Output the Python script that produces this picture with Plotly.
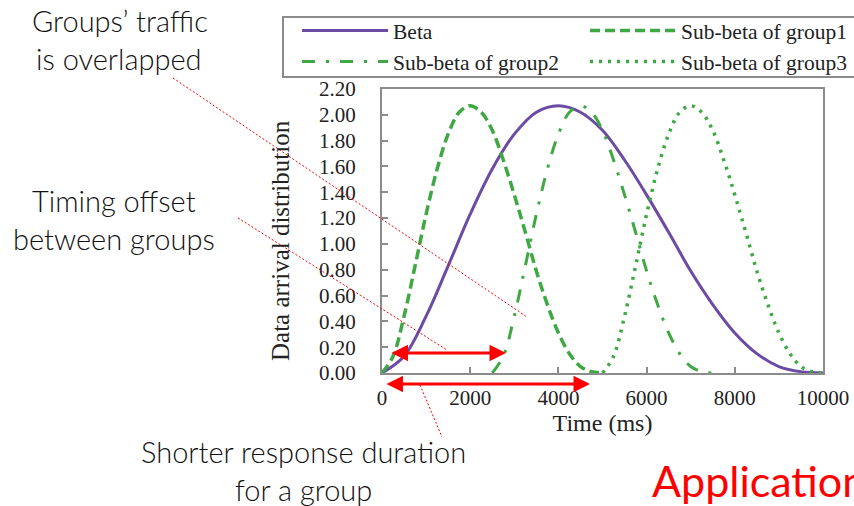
import plotly.graph_objects as go

# ---- data ----
beta_x = [0, 500, 1000, 1500, 2000, 2500, 3000, 3500, 4000, 4500, 5000,
          5500, 6000, 6500, 7000, 7500, 8000, 8500, 9000, 9500, 10000]
beta_y = [0.00, 0.13, 0.44, 0.83, 1.23, 1.58, 1.85, 2.02, 2.07, 2.02, 1.88,
          1.65, 1.38, 1.09, 0.79, 0.53, 0.31, 0.15, 0.05, 0.01, 0.00]

group1_x = [0, 250, 500, 750, 1000, 1250, 1500, 1750, 2000, 2250, 2500,
            2750, 3000, 3250, 3500, 3750, 4000, 4250, 4500, 4750, 5000]
group1_y = [0.00, 0.13, 0.44, 0.83, 1.23, 1.58, 1.85, 2.02, 2.07, 2.02, 1.88,
            1.65, 1.38, 1.09, 0.79, 0.53, 0.31, 0.15, 0.05, 0.01, 0.00]

group2_x = [2500, 2750, 3000, 3250, 3500, 3750, 4000, 4250, 4500, 4750, 5000,
            5250, 5500, 5750, 6000, 6250, 6500, 6750, 7000, 7250, 7500]
group2_y = [0.00, 0.13, 0.44, 0.83, 1.23, 1.58, 1.85, 2.02, 2.07, 2.02, 1.88,
            1.65, 1.38, 1.09, 0.79, 0.53, 0.31, 0.15, 0.05, 0.01, 0.00]

group3_x = [5000, 5250, 5500, 5750, 6000, 6250, 6500, 6750, 7000, 7250, 7500,
            7750, 8000, 8250, 8500, 8750, 9000, 9250, 9500, 9750, 10000]
group3_y = [0.00, 0.13, 0.44, 0.83, 1.23, 1.58, 1.85, 2.02, 2.07, 2.02, 1.88,
            1.65, 1.38, 1.09, 0.79, 0.53, 0.31, 0.15, 0.05, 0.01, 0.00]

x_ticks = [0, 2000, 4000, 6000, 8000, 10000]
x_tick_labels = ["0", "2000", "4000", "6000", "8000", "10000"]
y_ticks = [0.0, 0.2, 0.4, 0.6, 0.8, 1.0, 1.2, 1.4, 1.6, 1.8, 2.0, 2.2]
y_tick_labels = ["0.00", "0.20", "0.40", "0.60", "0.80", "1.00", "1.20",
                 "1.40", "1.60", "1.80", "2.00", "2.20"]

series_names = ["Beta", "Sub-beta of group1", "Sub-beta of group2", "Sub-beta of group3"]

PURPLE = "#6B4BA3"
GREEN = "#3EA843"
RED = "#FF0000"
SERIF = "Liberation Serif"
SANS = "Lato"
INK = "#222222"
FRAME = "#8c8c8c"

fig = go.Figure()
fig.add_trace(go.Scatter(x=beta_x, y=beta_y, name=series_names[0], mode="lines",
                         line=dict(color=PURPLE, width=3, shape="spline")))
fig.add_trace(go.Scatter(x=group1_x, y=group1_y, name=series_names[1], mode="lines",
                         line=dict(color=GREEN, width=3.5, shape="spline", dash="10px,5px")))
fig.add_trace(go.Scatter(x=group2_x, y=group2_y, name=series_names[2], mode="lines",
                         line=dict(color=GREEN, width=3, shape="spline", dash="13px,11px,3px,11px")))
fig.add_trace(go.Scatter(x=group3_x, y=group3_y, name=series_names[3], mode="lines",
                         line=dict(color=GREEN, width=3.5, shape="spline", dash="3px,6px")))

L, T, W, H = 382, 89, 441, 284


def px(xp):
    return (xp - L) / W


def py(yp):
    return (T + H - yp) / H


axis_common = dict(showline=True, mirror=True, linecolor=FRAME, linewidth=2,
                   ticks="inside", ticklen=6, tickwidth=1.5, tickcolor=FRAME,
                   showgrid=False, zeroline=False,
                   tickfont=dict(family=SERIF, size=21, color=INK))

fig.update_xaxes(range=[0, 10000], tickvals=x_ticks, ticktext=x_tick_labels,
                 ticklabelstandoff=5,
                 title=dict(text="Time (ms)", font=dict(family=SERIF, size=24, color=INK),
                            standoff=2),
                 **axis_common)
fig.update_yaxes(range=[0, 2.2], tickvals=y_ticks, ticktext=y_tick_labels,
                 ticklabelstandoff=20, **axis_common)

note_font = dict(family=SANS, size=29, color="#111111", weight=300)
annotations = [
    dict(text="Data arrival distribution", x=px(280), y=py(241), textangle=-90,
         font=dict(family=SERIF, size=25, color=INK)),
    dict(text="Groups’ traffic", x=px(120), y=py(20), font=note_font),
    dict(text="is overlapped", x=px(119), y=py(58), font=note_font),
    dict(text="Timing offset", x=px(114), y=py(200), font=note_font),
    dict(text="between groups", x=px(114), y=py(238), font=note_font),
    dict(text="Shorter response duration", x=px(303), y=py(451), font=note_font),
    dict(text="for a group", x=px(303), y=py(489), font=note_font),
    dict(text="Application", x=px(650), y=py(480), xanchor="left",
         font=dict(family=SANS, size=43, color=RED)),
]
for a in annotations:
    a.update(xref="paper", yref="paper", showarrow=False)
    a.setdefault("xanchor", "center")
    a.setdefault("yanchor", "middle")

# red double-headed arrows
for (x0, x1, yy) in [(390, 506, 353), (385, 590, 384)]:
    annotations.append(dict(text="", xref="paper", yref="paper", x=px(x1), y=py(yy),
                            axref="pixel", ayref="pixel", ax=-(x1 - x0), ay=0,
                            showarrow=True, arrowside="end+start", arrowhead=2,
                            arrowsize=1.1, arrowwidth=3, arrowcolor=RED))

fig.update_layout(annotations=annotations)

# legend frame (runs off the right edge, as in the reference)
fig.add_shape(type="rect", xref="paper", yref="paper", layer="below",
              x0=px(283), x1=px(905), y0=py(77), y1=py(17),
              line=dict(color=FRAME, width=2), fillcolor="rgba(0,0,0,0)")

# red dotted leader lines
for (x0, y0, x1, y1) in [(173, 78, 527, 317), (238, 218, 447, 350), (420, 385, 442, 437)]:
    fig.add_shape(type="line", xref="paper", yref="paper",
                  x0=px(x0), y0=py(y0), x1=px(x1), y1=py(y1),
                  line=dict(color=RED, width=1, dash="2px,2px"))

fig.update_layout(
    width=854, height=506,
    margin=dict(l=L, r=854 - L - W, t=T, b=506 - T - H, autoexpand=False),
    paper_bgcolor="white", plot_bgcolor="white",
    showlegend=True,
    legend=dict(orientation="h", x=px(287), y=py(10), xanchor="left", yanchor="top",
                borderwidth=0, bgcolor="rgba(0,0,0,0)",
                itemwidth=86, entrywidth=177, entrywidthmode="pixels", indentation=10,
                font=dict(family=SERIF, size=21.5, color=INK),
                tracegroupgap=0, traceorder="normal"),
)

fig.write_html("out.html", config={"displayModeBar": False},
               post_script="document.body.style.margin='0';")
